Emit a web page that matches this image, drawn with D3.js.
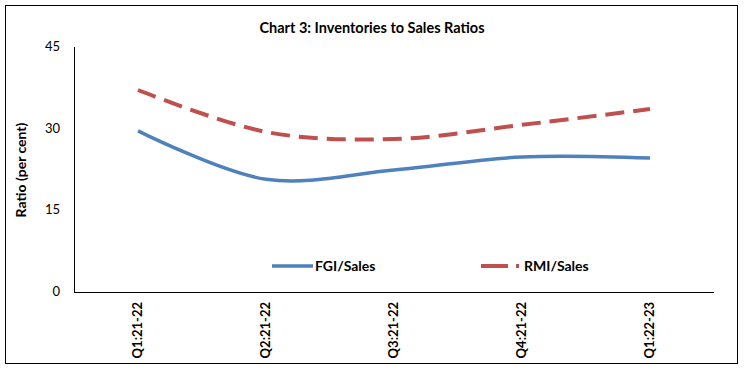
<!DOCTYPE html>
<html>
<head>
<meta charset="utf-8">
<script src="https://cdn.jsdelivr.net/npm/d3@7"></script>
<style>
body { margin: 0; background: #fff; }
text { font-family: Lato, "Open Sans", sans-serif; }
</style>
</head>
<body>
<script>
var quarters = ["Q1:21-22", "Q2:21-22", "Q3:21-22", "Q4:21-22", "Q1:22-23"];
var fgiSales = [29.6, 20.7, 22.4, 24.8, 24.6];
var rmiSales = [37.1, 29.4, 28.1, 30.7, 33.6];
var yTicks = [0, 15, 30, 45];

var svg = d3.select("body").append("svg")
.attr("width", 744)
.attr("height", 370);

// outer frame
svg.append("rect")
.attr("x", 5.5).attr("y", 5.5)
.attr("width", 732).attr("height", 358)
.attr("fill", "none")
.attr("stroke", "#000")
.attr("stroke-width", 1);

svg.append("text")
.attr("x", 372).attr("y", 33)
.attr("text-anchor", "middle")
.attr("font-size", 14.5)
.attr("font-weight", "bold")
.text("Chart 3: Inventories to Sales Ratios");

var x = d3.scaleBand().domain(quarters).range([74, 714]);
var y = d3.scaleLinear().domain([0, 45]).range([292, 47]);

// y axis
svg.append("line")
.attr("x1", 74.5).attr("x2", 74.5)
.attr("y1", y(45)).attr("y2", y(0))
.attr("stroke", "#000");

svg.selectAll(".ytick").data(yTicks).enter().append("text")
.attr("x", 60).attr("y", d => y(d) + 4)
.attr("text-anchor", "end")
.attr("font-size", 13)
.text(d => d);

// x axis
svg.append("line")
.attr("x1", 74).attr("x2", 714)
.attr("y1", y(0) + 0.5).attr("y2", y(0) + 0.5)
.attr("stroke", "#000");

svg.selectAll(".xtick").data(quarters).enter().append("text")
.attr("transform", d => "translate(" + (x(d) + x.bandwidth() / 2 + 4) + ",302) rotate(-90)")
.attr("text-anchor", "end")
.attr("font-size", 13)
.attr("font-weight", "bold")
.text(d => d);

svg.append("text")
.attr("transform", "translate(26,170) rotate(-90)")
.attr("text-anchor", "middle")
.attr("font-size", 14)
.attr("font-weight", "bold")
.text("Ratio (per cent)");

var line = d3.line()
.x((d, i) => x(quarters[i]) + x.bandwidth() / 2)
.y(d => y(d))
.curve(d3.curveCatmullRom.alpha(0.5));

svg.append("path")
.attr("d", line(rmiSales))
.attr("fill", "none")
.attr("stroke", "#C0504D")
.attr("stroke-width", 4)
.attr("stroke-dasharray", "19,9");

svg.append("path")
.attr("d", line(fgiSales))
.attr("fill", "none")
.attr("stroke", "#4F81BD")
.attr("stroke-width", 3.5);

// legend
svg.append("line")
.attr("x1", 272).attr("x2", 313)
.attr("y1", 266).attr("y2", 266)
.attr("stroke", "#4F81BD")
.attr("stroke-width", 3.5);
svg.append("text")
.attr("x", 315).attr("y", 271)
.attr("font-size", 14)
.attr("font-weight", "bold")
.text("FGI/Sales");

svg.append("line")
.attr("x1", 481).attr("x2", 522)
.attr("y1", 266).attr("y2", 266)
.attr("stroke", "#C0504D")
.attr("stroke-width", 4)
.attr("stroke-dasharray", "27,8,3,10");
svg.append("text")
.attr("x", 524).attr("y", 271)
.attr("font-size", 14)
.attr("font-weight", "bold")
.text("RMI/Sales");
</script>
</body>
</html>
